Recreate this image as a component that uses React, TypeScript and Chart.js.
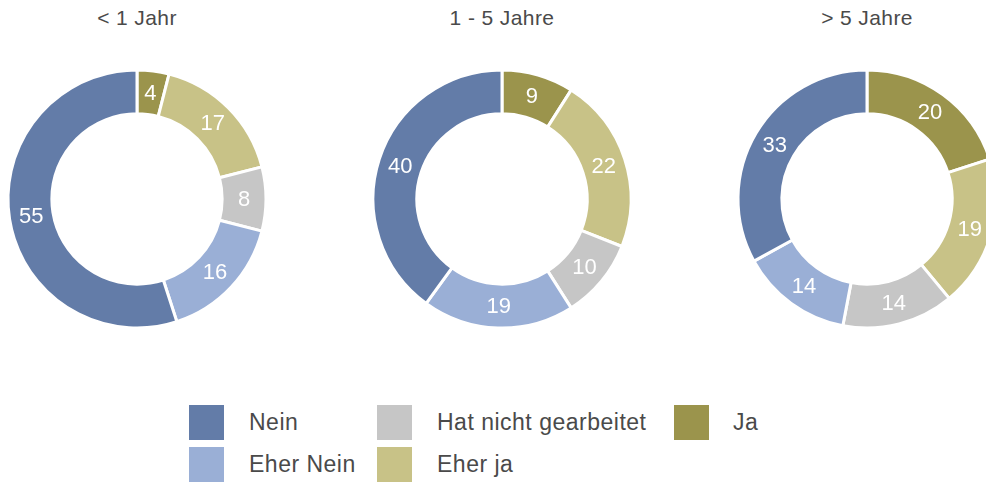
import React, { useEffect, useRef } from "react";
import { Chart, registerables } from "chart.js";

Chart.register(...registerables);

// ---- data ----
const categories = ["Nein", "Eher Nein", "Hat nicht gearbeitet", "Eher ja", "Ja"];
const sliceColors = ["#637ca8", "#9aafd6", "#c6c6c6", "#c8c287", "#9b944c"];
const groupTitles = ["< 1 Jahr", "1 - 5 Jahre", "> 5 Jahre"];
const valuesUnder1 = [55, 16, 8, 17, 4];
const values1to5 = [40, 19, 10, 22, 9];
const valuesOver5 = [33, 14, 14, 19, 20];
const groupValues = [valuesUnder1, values1to5, valuesOver5];

const FONT = "'Liberation Sans', Arial, Helvetica, sans-serif";
const TEXT = "#4a4a4a";

// layout
const CANVAS = 300;
const centersX = [137, 502, 867];
const centerY = 199;

const labelPlugin = {
  id: "sliceLabels",
  afterDatasetsDraw(chart: any) {
    const ctx = chart.ctx;
    const meta = chart.getDatasetMeta(0);
    const data = chart.data.datasets[0].data as number[];
    ctx.save();
    ctx.fillStyle = "#ffffff";
    ctx.font = `22px ${FONT}`;
    ctx.textAlign = "center";
    ctx.textBaseline = "middle";
    meta.data.forEach((arc: any, i: number) => {
      const p = arc.tooltipPosition(false);
      ctx.fillText(String(data[i]), p.x, p.y + 1);
    });
    ctx.restore();
  },
};

function Donut({ values }: { values: number[] }) {
  const ref = useRef<HTMLCanvasElement | null>(null);
  useEffect(() => {
    if (!ref.current) return;
    // drawn counter-clockwise from the top in the original -> reverse order clockwise
    const labels = [...categories].reverse();
    const data = [...values].reverse();
    const colors = [...sliceColors].reverse();
    const chart = new Chart(ref.current, {
      type: "doughnut",
      data: {
        labels,
        datasets: [
          {
            data,
            backgroundColor: colors,
            borderColor: "#ffffff",
            borderWidth: 3,
            hoverOffset: 0,
          },
        ],
      },
      options: {
        animation: false,
        responsive: false,
        devicePixelRatio: 1,
        radius: 129,
        cutout: "66%",
        events: [],
        plugins: {
          legend: { display: false },
          tooltip: { enabled: false },
          title: { display: false },
        },
        layout: { padding: 0 },
      },
      plugins: [labelPlugin],
    });
    return () => chart.destroy();
  }, [values]);
  return <canvas ref={ref} width={CANVAS} height={CANVAS} style={{ display: "block" }} />;
}

const legendCols = [
  { square: 189, text: 249 },
  { square: 377, text: 437 },
  { square: 674, text: 733 },
];
const legendRows = [405, 447];

export default function App() {
  return (
    <div
      style={{
        position: "fixed",
        left: 0,
        top: 0,
        width: 986,
        height: 484,
        overflow: "hidden",
        background: "#ffffff",
        fontFamily: FONT,
        color: TEXT,
      }}
    >
      {groupTitles.map((t, i) => (
        <div
          key={t}
          style={{
            position: "absolute",
            left: centersX[i] - 150,
            width: 300,
            top: 5,
            textAlign: "center",
            fontSize: 21,
            letterSpacing: "0.4px",
            lineHeight: "26px",
            whiteSpace: "pre",
          }}
        >
          {t}
        </div>
      ))}
      {groupValues.map((v, i) => (
        <div
          key={i}
          style={{
            position: "absolute",
            left: centersX[i] - CANVAS / 2,
            top: centerY - CANVAS / 2,
            width: CANVAS,
            height: CANVAS,
          }}
        >
          <Donut values={v} />
        </div>
      ))}
      {categories.map((c, i) => {
        const col = Math.floor(i / 2);
        const row = i % 2;
        return (
          <React.Fragment key={c}>
            <div
              style={{
                position: "absolute",
                left: legendCols[col].square,
                top: legendRows[row],
                width: 35,
                height: 35,
                background: sliceColors[i],
              }}
            />
            <div
              style={{
                position: "absolute",
                left: legendCols[col].text,
                top: legendRows[row],
                height: 35,
                lineHeight: "35px",
                fontSize: 23,
                letterSpacing: "0.5px",
                whiteSpace: "pre",
              }}
            >
              {c}
            </div>
          </React.Fragment>
        );
      })}
    </div>
  );
}
